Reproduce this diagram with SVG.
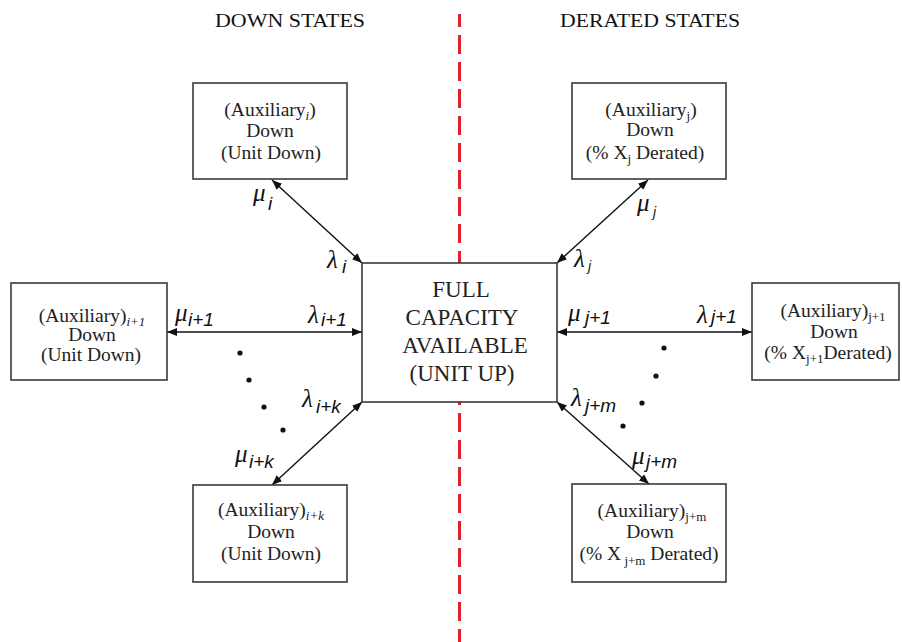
<svg xmlns="http://www.w3.org/2000/svg" width="902" height="642" viewBox="0 0 902 642">
<defs>
<marker id="ah" viewBox="0 0 10 8" refX="10" refY="4" markerWidth="10" markerHeight="8" markerUnits="userSpaceOnUse" orient="auto-start-reverse">
<path d="M0,0 L10,4 L0,8 z" fill="#111"/>
</marker>
<style>
.box{fill:#fff;stroke:#3a3a3a;stroke-width:1.6}
.bt{font-family:"Liberation Serif","Times New Roman",serif;font-size:19.5px;fill:#222;text-anchor:middle}
.ct{font-family:"Liberation Serif","Times New Roman",serif;font-size:23px;fill:#222;text-anchor:middle}
.hd{font-family:"Liberation Serif","Times New Roman",serif;font-size:19px;fill:#111;text-anchor:middle}
.sub{font-size:13px}
.isub{font-size:13px;font-style:italic}
.g{font-family:"Liberation Serif","Times New Roman",serif;font-size:25px;font-style:italic;fill:#111}
.gs{font-family:"Liberation Sans",Arial,sans-serif;font-size:19px;font-style:italic;fill:#111}
.gsj{font-family:"Liberation Sans",Arial,sans-serif;font-size:14px;font-style:italic;fill:#111}
.conn{stroke:#111;stroke-width:1.4;fill:none;marker-start:url(#ah);marker-end:url(#ah)}
.dot{fill:#111}
</style>
</defs>
<rect width="902" height="642" fill="#fff"/>

<g id="divider">
<line x1="459.5" y1="14" x2="459.5" y2="642" stroke="#e0202a" stroke-width="3" stroke-dasharray="19 8" stroke-dashoffset="6"/>
</g>

<g id="headers">
<text class="hd" x="290" y="27" textLength="150" lengthAdjust="spacingAndGlyphs">DOWN STATES</text>
<text class="hd" x="650" y="27" textLength="180" lengthAdjust="spacingAndGlyphs">DERATED STATES</text>
</g>

<g id="connectors">
<line class="conn" x1="272" y1="180" x2="362" y2="263"/>
<line class="conn" x1="648" y1="180" x2="557" y2="263"/>
<line class="conn" x1="167" y1="332" x2="362" y2="332"/>
<line class="conn" x1="557" y1="332" x2="752" y2="332"/>
<line class="conn" x1="272" y1="485" x2="362" y2="402"/>
<line class="conn" x1="649" y1="484" x2="557" y2="402"/>
</g>

<g id="dots">
<circle class="dot" cx="240" cy="353" r="2.6"/>
<circle class="dot" cx="249" cy="380" r="2.6"/>
<circle class="dot" cx="264" cy="407" r="2.6"/>
<circle class="dot" cx="283" cy="430" r="2.6"/>
<circle class="dot" cx="664" cy="348" r="2.6"/>
<circle class="dot" cx="656" cy="376" r="2.6"/>
<circle class="dot" cx="642" cy="403" r="2.6"/>
<circle class="dot" cx="623" cy="426" r="2.6"/>
</g>

<g id="center">
<rect class="box" x="362" y="263" width="195" height="139"/>
<text class="ct" x="461" y="297">FULL</text>
<text class="ct" x="462" y="325">CAPACITY</text>
<text class="ct" x="465" y="353">AVAILABLE</text>
<text class="ct" x="462" y="381">(UNIT UP)</text>
</g>

<g id="aux-i">
<rect class="box" x="193" y="83" width="154" height="96"/>
<text class="bt" x="270" y="116">(Auxiliary<tspan class="isub" dy="4">i</tspan><tspan dy="-4">)</tspan></text>
<text class="bt" x="270" y="137">Down</text>
<text class="bt" x="271" y="159">(Unit Down)</text>
</g>

<g id="aux-i1">
<rect class="box" x="11" y="283" width="156" height="97"/>
<text class="bt" x="92" y="322">(Auxiliary)<tspan class="isub" dy="4">i+1</tspan></text>
<text class="bt" x="92" y="341">Down</text>
<text class="bt" x="91" y="361">(Unit Down)</text>
</g>

<g id="aux-ik">
<rect class="box" x="193" y="485" width="154" height="97"/>
<text class="bt" x="271" y="516">(Auxiliary)<tspan class="isub" dy="4">i+k</tspan></text>
<text class="bt" x="271" y="538">Down</text>
<text class="bt" x="271" y="560">(Unit Down)</text>
</g>

<g id="aux-j">
<rect class="box" x="572" y="83" width="154" height="96"/>
<text class="bt" x="651" y="116">(Auxiliary<tspan class="sub" dy="4">j</tspan><tspan dy="-4">)</tspan></text>
<text class="bt" x="650" y="136">Down</text>
<text class="bt" x="645" y="159">(% X<tspan class="sub" dy="4">j</tspan><tspan dy="-4"> Derated)</tspan></text>
</g>

<g id="aux-j1">
<rect class="box" x="752" y="283" width="147" height="97"/>
<text class="bt" x="833" y="317">(Auxiliary)<tspan class="sub" dy="4">j+1</tspan></text>
<text class="bt" x="834" y="338">Down</text>
<text class="bt" x="828" y="359">(% X<tspan class="sub" dy="4">j+1</tspan><tspan dy="-4">Derated)</tspan></text>
</g>

<g id="aux-jm">
<rect class="box" x="572" y="484" width="154" height="98"/>
<text class="bt" x="652" y="517">(Auxiliary)<tspan class="sub" dy="4">j+m</tspan></text>
<text class="bt" x="650" y="538">Down</text>
<text class="bt" x="649" y="560">(% X<tspan class="sub" dy="5"> j+m</tspan><tspan dy="-5"> Derated)</tspan></text>
</g>

<g id="rate-labels">
<text class="g" x="253" y="201">μ</text><text class="gs" x="268" y="210">i</text>
<text class="g" x="327" y="268">λ</text><text class="gs" x="342" y="273">i</text>
<text class="g" x="175" y="321">μ</text><text class="gs" x="188" y="326">i+1</text>
<text class="g" x="308" y="323">λ</text><text class="gs" x="321" y="326">i+1</text>
<text class="g" x="302" y="407">λ</text><text class="gs" x="316" y="413">i+k</text>
<text class="g" x="235" y="462">μ</text><text class="gs" x="249" y="468">i+k</text>
<text class="g" x="637" y="211">μ</text><text class="gsj" x="653" y="217">j</text>
<text class="g" x="574" y="267">λ</text><text class="gsj" x="588" y="271">j</text>
<text class="g" x="568" y="321">μ</text><text class="gs" x="585" y="324">j+1</text>
<text class="g" x="697" y="323">λ</text><text class="gs" x="711" y="323">j+1</text>
<text class="g" x="571" y="406">λ</text><text class="gs" x="585" y="412">j+m</text>
<text class="g" x="632" y="464">μ</text><text class="gs" x="646" y="468">j+m</text>
</g>
</svg>
